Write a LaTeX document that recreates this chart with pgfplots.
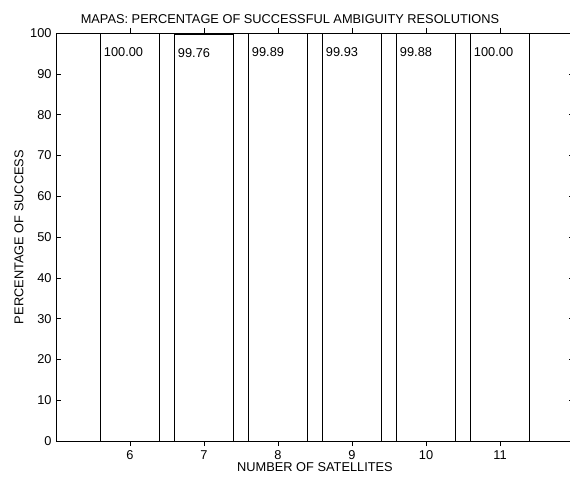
\documentclass[border=0pt]{standalone}
\usepackage{pgfplots}
\pgfplotsset{compat=1.18}
\usepackage{fontspec}
\setmainfont{Liberation Sans}
\usetikzlibrary{calc}
\begin{document}
\fontsize{12.8}{14}\selectfont
\begin{tikzpicture}
\begin{axis}[
    scale only axis,
    width=518pt, height=408pt,
    xmin=5, xmax=12, ymin=0, ymax=100,
    xtick={6,7,8,9,10,11},
    ytick={0,10,...,100},
    tick align=inside,
    major tick length=5pt,
    /pgf/number format/assume math mode=true,
    ticklabel style={font=\fontsize{12.8}{14}\selectfont},
    title={MAPAS: PERCENTAGE OF SUCCESSFUL AMBIGUITY RESOLUTIONS},
    title style={yshift=-1pt, xshift=-25pt},
    xlabel={NUMBER OF SATELLITES},
    ylabel={PERCENTAGE OF SUCCESS},
    xlabel style={yshift=6pt},
    ylabel style={yshift=-2pt},
    axis line style={line width=0.8pt},
    every tick/.style={black, line width=0.5pt},
    ybar, bar width=0.8, bar shift=0pt,
    nodes near coords,
    point meta=explicit symbolic,
    every node near coord/.append style={anchor=north west, xshift=-0.4*74pt-1pt, yshift=-10pt, font=\fontsize{12.8}{14}\selectfont},
]
\addplot[draw=black, fill=none, line width=0.6pt] table[meta=lab] {
x y lab
6 100.00 100.00
7 99.76 99.76
8 99.89 99.89
9 99.93 99.93
10 99.88 99.88
11 100.00 100.00
};
\coordinate (sw) at (rel axis cs:0,0);
\coordinate (ne) at (rel axis cs:1,1);
\end{axis}
\pgfresetboundingbox
\useasboundingbox ($(sw)+(-56pt,-40pt)$) rectangle ($(ne)+(-4pt,33pt)$);
\end{tikzpicture}
\end{document}
